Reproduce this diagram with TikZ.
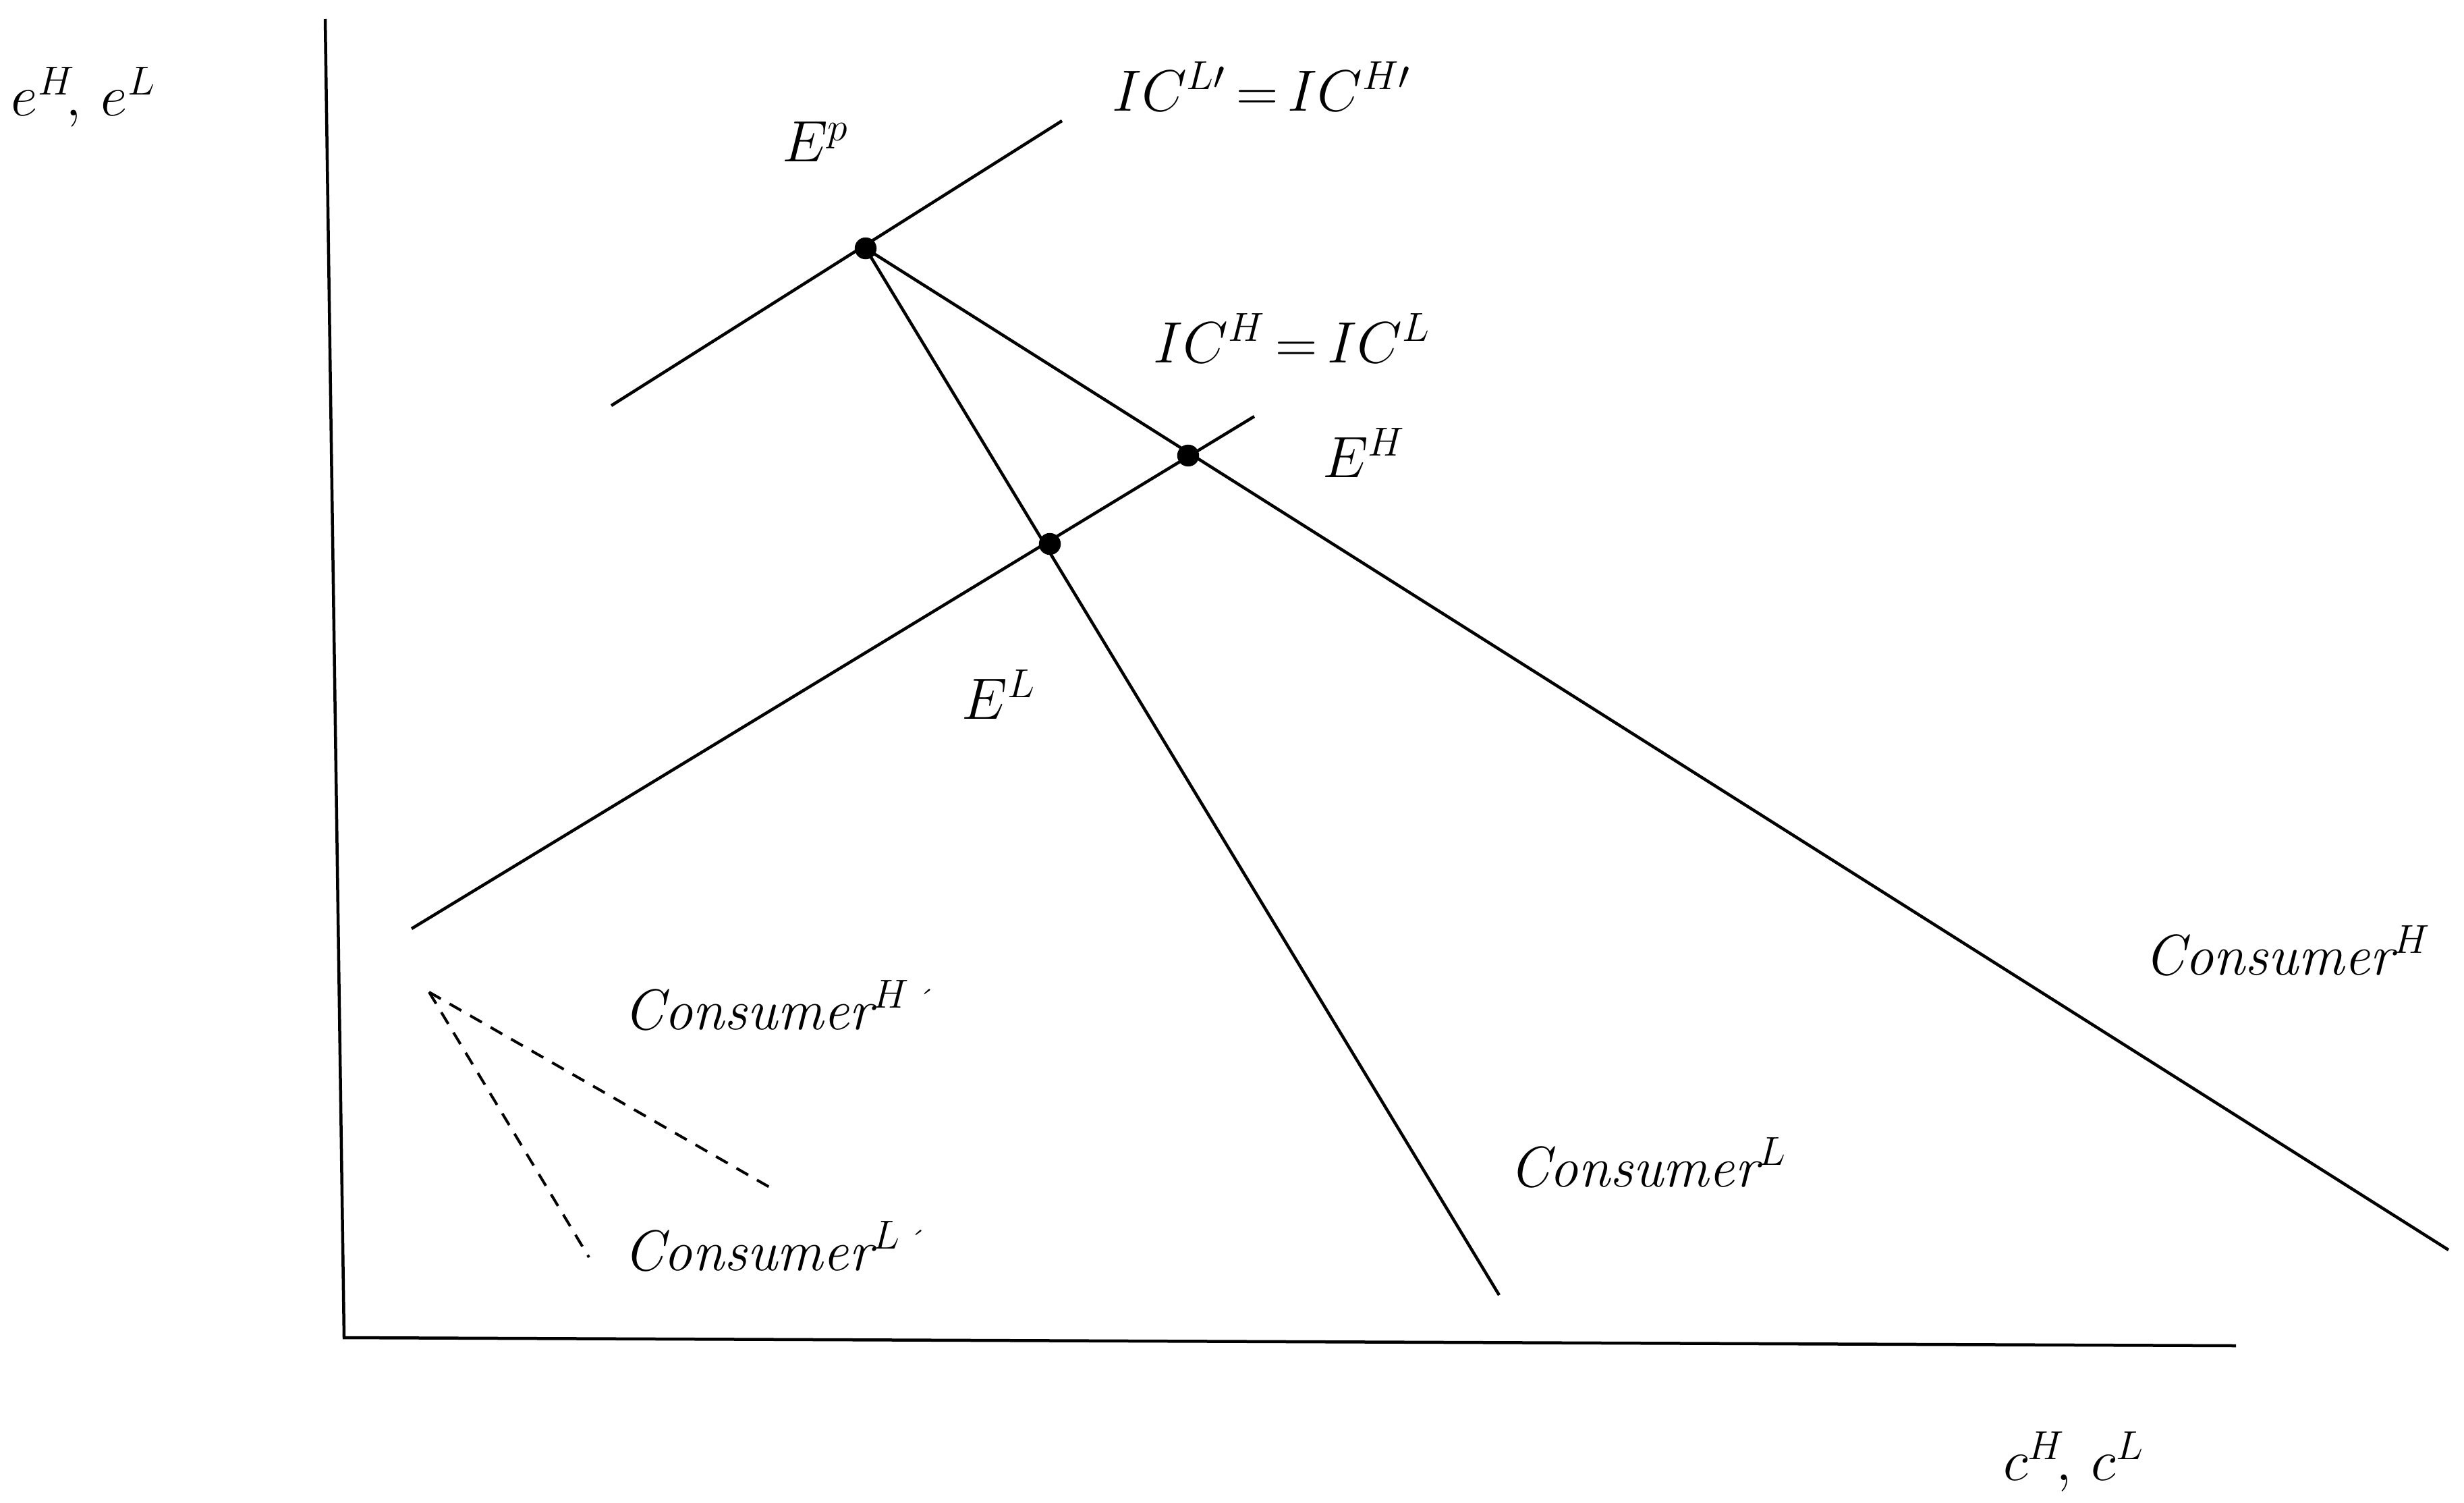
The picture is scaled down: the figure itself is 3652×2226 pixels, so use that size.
\documentclass[tikz,border=0pt]{standalone}
\usepackage{fontspec}
\begin{document}
\begin{tikzpicture}[x=0.2pt,y=-0.2pt,
  ln/.style={line width=0.9pt},
  dln/.style={line width=0.8pt,dash pattern=on 4pt off 3pt},
  lbl/.style={font=\fontsize{17}{20}\selectfont\itshape,inner sep=0pt},
  dot/.style={circle,fill=black,inner sep=0pt,minimum size=6.5pt}]
\useasboundingbox (0,0) rectangle (3652,2226);
% axes
\coordinate (ytop) at (482,28);
\coordinate (O) at (510,1982);
\coordinate (xend) at (3314,1994);
\draw[ln] (ytop) -- (O) -- (xend);
% IC' line
\coordinate (icpa) at (906,601);
\coordinate (icpb) at (1574,179);
\draw[ln] (icpa) -- (icpb);
% IC line
\coordinate (ica) at (610,1376);
\coordinate (icb) at (1859,617);
\draw[ln] (ica) -- (icb);
% points
\node[dot] (Ep) at (1283,368) {};
\node[dot] (EH) at (1761,675) {};
\node[dot] (EL) at (1556,806) {};
% consumer lines
\coordinate (cH) at (3629,1852);
\coordinate (cL) at (2222,1919);
\draw[ln] (Ep.center) -- (cH);
\draw[ln] (Ep.center) -- (cL);
% dashed
\coordinate (dO) at (636,1470);
\coordinate (dH) at (1144,1761);
\coordinate (dL) at (873,1863);
\draw[dln] (dO) -- (dH);
\draw[dln] (dO) -- (dL);
% labels
\node[lbl,anchor=west] (ly) at (16,144) {$e^H\!,\,e^L$};
\node[lbl] (lx) at (3074,2166) {$c^H\!,\,c^L$};
\node[lbl] (licp) at (1870,128) {$IC^{L\prime}\mkern3mu{=}\mkern3mu IC^{H\prime}$};
\node[lbl] (lic) at (1915,501) {$IC^{H}\mkern3mu{=}\mkern3mu IC^{L}$};
\node[lbl] (lEp) at (1209,210) {$E^p$};
\node[lbl] (lEH) at (2022,671) {$E^H$};
\node[lbl] (lEL) at (1481,1029) {$E^L$};
\node[lbl] (lcH) at (3391,1409) {Consumer$^H$};
\node[lbl] (lcL) at (2443,1723) {Consumer$^L$};
\node[lbl] (lcHp) at (1153,1490) {Consumer$^{H\,\mbox{\footnotesize\itshape ´}}$};
\node[lbl] (lcLp) at (1146,1847) {Consumer$^{L\,\mbox{\footnotesize\itshape ´}}$};
\end{tikzpicture}
\end{document}
